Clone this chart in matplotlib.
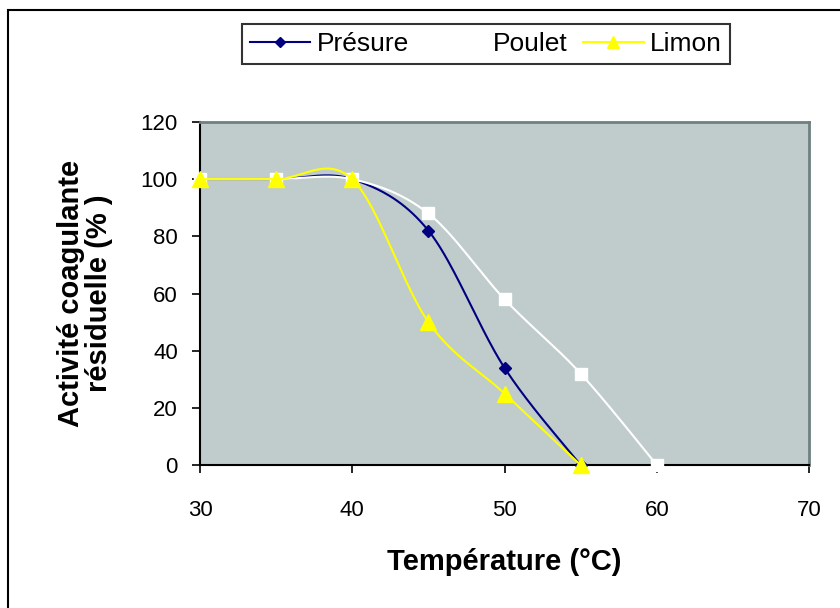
import numpy as np
import matplotlib
matplotlib.use("Agg")
import matplotlib.pyplot as plt
from matplotlib.patches import Rectangle
from matplotlib.lines import Line2D

plt.rcParams['font.family'] = ['Liberation Sans', 'DejaVu Sans']

temperature = [30, 35, 40, 45, 50, 55, 60]
presure = [100, 100, 100, 82, 34, 0]
poulet = [100, 100, 100, 88, 58, 32, 0]
limon = [100, 100, 100, 50, 25, 0]

series_names = ["Présure", "Poulet", "Limon"]
x_ticks = [30, 40, 50, 60, 70]
y_ticks = [0, 20, 40, 60, 80, 100, 120]


def smooth(xs, ys, n=40):
    """Catmull-Rom style Bezier smoothing through every point."""
    xs = np.asarray(xs, float)
    ys = np.asarray(ys, float)
    pts = np.column_stack([xs, ys])
    out = [pts[0]]
    m = len(pts)
    t = np.linspace(0, 1, n)[1:, None]
    for i in range(m - 1):
        p0 = pts[i - 1] if i > 0 else pts[i]
        p1 = pts[i]
        p2 = pts[i + 1]
        p3 = pts[i + 2] if i + 2 < m else pts[i + 1]
        c1 = p1 + (p2 - p0) / 6.0
        c2 = p2 - (p3 - p1) / 6.0
        seg = ((1 - t) ** 3) * p1 + 3 * ((1 - t) ** 2) * t * c1 \
            + 3 * (1 - t) * t ** 2 * c2 + t ** 3 * p2
        out.extend(seg)
    out = np.array(out)
    return out[:, 0], out[:, 1]


fig = plt.figure(figsize=(8.4, 6.08), dpi=100)
fig.patches.append(Rectangle((8 / 840, -0.1), 1.2, (608 - 10) / 608 + 0.1,
                             transform=fig.transFigure, fill=False,
                             edgecolor='black', linewidth=1.5))

ax = fig.add_axes([200 / 840, (608 - 465) / 608, (809 - 200) / 840, (465 - 122) / 608])
ax.set_facecolor('#C0CCCB')

styles = [
    dict(color='#000080', marker='D', markersize=6, mfc='#000080', mec='#000080'),
    dict(color='white', marker='s', markersize=8, mfc='white', mec='white'),
    dict(color='#FFFF00', marker='^', markersize=11, mfc='#FFFF00', mec='#FFFF00'),
]
data = [presure, poulet, limon]
order = [1, 0, 2]
for k in order:
    ys = data[k]
    xs = temperature[:len(ys)]
    sx, sy = smooth(xs, ys)
    st = styles[k]
    ax.plot(sx, sy, color=st['color'], linewidth=1.5, zorder=3 + k, clip_on=False)
    ax.plot(xs, ys, linestyle='none', marker=st['marker'], markersize=st['markersize'],
            markerfacecolor=st['mfc'], markeredgecolor=st['mec'], zorder=4 + k,
            clip_on=False)

ax.set_xlim(30, 70)
ax.set_ylim(0, 120)
ax.set_xticks(x_ticks)
ax.set_yticks(y_ticks)
ax.tick_params(axis='both', direction='out', length=6, width=1.2, labelsize=16,
               color='black')
ax.tick_params(axis='y', pad=10)
ax.tick_params(axis='x', pad=19)
for side in ['left', 'bottom']:
    ax.spines[side].set_color('black')
    ax.spines[side].set_linewidth(1.5)
for side in ['top', 'right']:
    ax.spines[side].set_color('#6E8080')
    ax.spines[side].set_linewidth(2)

ax.set_xlabel("Température (°C)", fontsize=21, fontweight='bold', labelpad=20)
ax.set_ylabel("Activité coagulante\nrésiduelle (% )", fontsize=21, fontweight='bold',
              labelpad=20, linespacing=1.0)

handles = []
for k, name in enumerate(series_names):
    st = styles[k]
    handles.append(Line2D([], [], color=st['color'], linewidth=1.5, marker=st['marker'],
                          markersize=st['markersize'] * 0.85,
                          markerfacecolor=st['mfc'], markeredgecolor=st['mec']))
leg = fig.legend(handles, series_names, loc='center', ncol=3,
                 bbox_to_anchor=(486 / 840, 1 - 44 / 608), fontsize=19,
                 frameon=True, fancybox=False, edgecolor='black',
                 handlelength=2.3, handletextpad=0.25, columnspacing=0.6,
                 borderpad=0.3)
leg.get_frame().set_linewidth(1.5)

fig.savefig("out.png", dpi=100)
